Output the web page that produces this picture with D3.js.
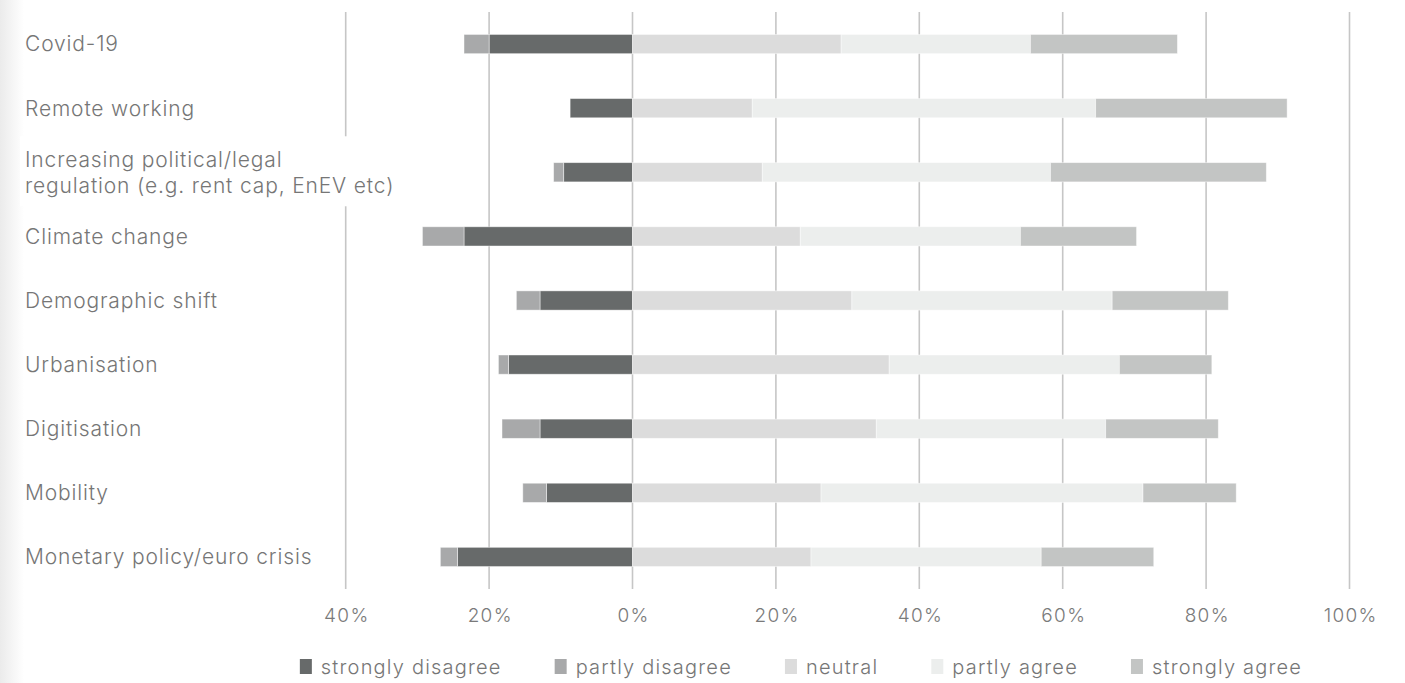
<!DOCTYPE html>
<html>
<head>
<meta charset="utf-8">
<script src="https://cdn.jsdelivr.net/npm/d3@7"></script>
<style>
  html, body { margin: 0; padding: 0; background: #fff; }
  svg { display: block; }
  text { font-family: Inter, "Open Sans", Lato, sans-serif; font-weight: 300; }
</style>
</head>
<body>
<svg id="chart" width="1405" height="683"></svg>
<script>
// Survey: impact of trends on the market (share of respondents, %)
const categories = [
  "Covid-19",
  "Remote working",
  "Increasing political/legal\nregulation (e.g. rent cap, EnEV etc)",
  "Climate change",
  "Demographic shift",
  "Urbanisation",
  "Digitisation",
  "Mobility",
  "Monetary policy/euro crisis"
];
const stronglyDisagree = [20.0, 8.7, 9.6, 23.5, 12.9, 17.3, 12.9, 12.0, 24.4];
const partlyDisagree   = [3.5, 0.0, 1.4, 5.8, 3.3, 1.4, 5.3, 3.3, 2.4];
const neutral          = [29.1, 16.7, 18.1, 23.4, 30.6, 35.8, 34.0, 26.3, 24.9];
const partlyAgree      = [26.4, 47.9, 40.2, 30.7, 36.3, 32.1, 32.0, 44.9, 32.1];
const stronglyAgree    = [20.5, 26.7, 30.1, 16.2, 16.2, 12.9, 15.7, 13.0, 15.7];

const seriesNames = ["strongly disagree", "partly disagree", "neutral", "partly agree", "strongly agree"];
const seriesColors = ["#676a6a", "#a8a9aa", "#dcdcdc", "#eceeed", "#c3c5c4"];
const tickValues = [-40, -20, 0, 20, 40, 60, 80, 100];
const tickLabels = ["40%", "20%", "0%", "20%", "40%", "60%", "80%", "100%"];

const svg = d3.select("#chart");
const W = 1405, H = 683;

// soft shading along the left page edge
const defs = svg.append("defs");
const grad = defs.append("linearGradient").attr("id", "edge").attr("x1", 0).attr("x2", 1);
grad.append("stop").attr("offset", 0).attr("stop-color", "#ebebeb");
grad.append("stop").attr("offset", 1).attr("stop-color", "#ffffff");
svg.append("rect").attr("x", 0).attr("y", 0).attr("width", 24).attr("height", H).attr("fill", "url(#edge)");

const x = d3.scaleLinear().domain([-40, 100]).range([345.7, 1349.5]);
const y = d3.scaleBand().domain(categories).range([12, 589]).paddingInner(0.7).paddingOuter(0.35);

// vertical gridlines
svg.append("g").selectAll("line").data(tickValues).join("line")
  .attr("x1", d => x(d)).attr("x2", d => x(d))
  .attr("y1", 12).attr("y2", 589)
  .attr("stroke", "#c6c6c6").attr("stroke-width", 1.6);

// stacked segments: disagree to the left of zero, neutral/agree to the right
const rows = categories.map((c, i) => {
  const sd = stronglyDisagree[i], pd = partlyDisagree[i];
  const n = neutral[i], pa = partlyAgree[i], sa = stronglyAgree[i];
  return [
    { cat: c, k: 0, x0: -sd, x1: 0 },
    { cat: c, k: 1, x0: -sd - pd, x1: -sd },
    { cat: c, k: 2, x0: 0, x1: n },
    { cat: c, k: 3, x0: n, x1: n + pa },
    { cat: c, k: 4, x0: n + pa, x1: n + pa + sa }
  ];
}).flat().filter(d => d.x1 - d.x0 > 0);

svg.append("g").selectAll("rect").data(rows).join("rect")
  .attr("x", d => x(d.x0))
  .attr("width", d => x(d.x1) - x(d.x0))
  .attr("y", d => y(d.cat))
  .attr("height", y.bandwidth())
  .attr("fill", d => seriesColors[d.k])
  .attr("stroke", "rgba(255,255,255,0.55)")
  .attr("stroke-width", 0.8);

// category labels
const labelG = svg.append("g");
categories.forEach(c => {
  const lines = c.split("\n");
  const cy = y(c) + y.bandwidth() / 2;
  const lh = 26;
  if (lines.length > 1) {
    labelG.append("rect")
      .attr("x", 20).attr("y", cy - 36).attr("width", 378).attr("height", 70)
      .attr("fill", "#fff");
  }
  const t = labelG.append("text")
    .attr("x", 25)
    .attr("fill", "#767676")
    .attr("font-size", 21)
    .attr("letter-spacing", 0.85);
  lines.forEach((ln, j) => {
    t.append("tspan")
      .attr("x", 25)
      .attr("y", cy + (j - (lines.length - 1) / 2) * lh)
      .attr("dy", "0.35em")
      .text(ln);
  });
});

// x axis labels
const axis = d3.axisBottom(x).tickValues(tickValues).tickFormat((d, i) => tickLabels[i]).tickSize(0);
const ax = svg.append("g").attr("transform", "translate(0,600)").call(axis);
ax.select(".domain").remove();
ax.selectAll("text")
  .attr("dy", 0).attr("y", 22).attr("dx", 0.6)
  .attr("fill", "#7a7a7a")
  .attr("font-size", 19)
  .attr("letter-spacing", 1.3)
  .style("font-family", "Inter, 'Open Sans', Lato, sans-serif")
  .style("font-weight", 300);

// legend
const legend = svg.append("g");
const items = legend.selectAll("g").data(seriesNames).join("g");
items.append("rect").attr("x", 0).attr("y", -8).attr("width", 12).attr("height", 15)
  .attr("fill", (d, i) => seriesColors[i]);
items.append("text").attr("x", 21).attr("y", 0).attr("dy", "0.35em")
  .attr("fill", "#767676").attr("font-size", 20).attr("letter-spacing", 1.2).text(d => d);
let cursor = 0;
items.each(function () {
  const g = d3.select(this);
  g.attr("transform", `translate(${cursor},667)`);
  cursor += 21 + g.select("text").node().getComputedTextLength() + 53;
});
const legendWidth = cursor - 53;
legend.attr("transform", `translate(${801 - legendWidth / 2},0)`);
</script>
</body>
</html>
